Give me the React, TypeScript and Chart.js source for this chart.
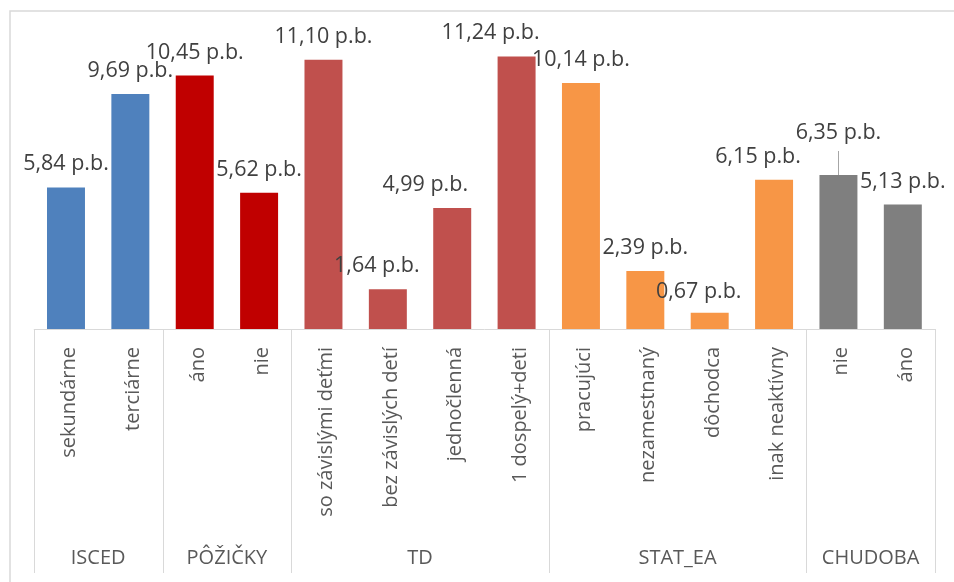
import React, { useEffect, useRef } from "react";
import { Chart, registerables } from "chart.js";

Chart.register(...registerables);

const categories = [
  "sekundárne",
  "terciárne",
  "áno",
  "nie",
  "so závislými deťmi",
  "bez závislých detí",
  "jednočlenná",
  "1 dospelý+deti",
  "pracujúci",
  "nezamestnaný",
  "dôchodca",
  "inak neaktívny",
  "nie",
  "áno",
];
const values = [5.84, 9.69, 10.45, 5.62, 11.1, 1.64, 4.99, 11.24, 10.14, 2.39, 0.67, 6.15, 6.35, 5.13];
const groupNames = ["ISCED", "PÔŽIČKY", "TD", "STAT_EA", "CHUDOBA"];
const groupSizes = [2, 2, 4, 4, 2];
const groupColors = ["#4F81BD", "#C00000", "#C0504D", "#F79646", "#7F7F7F"];
const labelSuffix = " p.b.";

// manual nudges of data labels (as in the original Excel chart)
const labelNudge: Record<number, { dx: number; dy: number; leader?: boolean }> = {
  5: { dx: -11, dy: 0 },
  6: { dx: -27, dy: 0 },
  7: { dx: -26, dy: 0 },
  10: { dx: -11, dy: 2 },
  11: { dx: -16, dy: 0 },
  12: { dx: 0, dy: -19, leader: true },
};

const barColors: string[] = [];
groupSizes.forEach((n, g) => {
  for (let i = 0; i < n; i++) barColors.push(groupColors[g]);
});

const FONT = "'Open Sans', 'Noto Sans', sans-serif";

const decorPlugin = {
  id: "decor",
  afterDraw(chart: any) {
    const { ctx, chartArea } = chart;
    const meta = chart.getDatasetMeta(0);
    const xs = chart.scales.x;
    const left = chartArea.left;
    const right = chartArea.right;
    const bottom = chartArea.bottom;
    const step = (right - left) / categories.length;
    ctx.save();

    // outer frame
    ctx.strokeStyle = "#D9D9D9";
    ctx.lineWidth = 1.5;
    ctx.beginPath();
    ctx.moveTo(10, 582);
    ctx.lineTo(10, 11);
    ctx.lineTo(954, 11);
    ctx.stroke();

    // axis line
    ctx.lineWidth = 1;
    ctx.strokeStyle = "#D9D9D9";
    ctx.beginPath();
    ctx.moveTo(left, bottom + 0.5);
    ctx.lineTo(right, bottom + 0.5);
    ctx.stroke();

    // group separators
    let idx = 0;
    const bounds = [0];
    groupSizes.forEach((n) => {
      idx += n;
      bounds.push(idx);
    });
    bounds.forEach((b) => {
      const x = Math.round(left + b * step) + 0.5;
      ctx.beginPath();
      ctx.moveTo(x, bottom);
      ctx.lineTo(x, 573);
      ctx.stroke();
    });

    // category labels
    ctx.fillStyle = "#595959";
    ctx.font = `20px ${FONT}`;
    categories.forEach((c, i) => {
      const cx = xs.getPixelForValue(i);
      ctx.save();
      ctx.translate(cx + 9, 347);
      ctx.rotate(-Math.PI / 2);
      ctx.textAlign = "right";
      ctx.textBaseline = "alphabetic";
      ctx.fillText(c, 0, 0);
      ctx.restore();
    });

    // group labels
    ctx.textAlign = "center";
    ctx.textBaseline = "alphabetic";
    groupNames.forEach((g, k) => {
      const cx = left + ((bounds[k] + bounds[k + 1]) / 2) * step;
      ctx.fillText(g, cx, 564);
    });

    // data labels
    ctx.fillStyle = "#404040";
    ctx.font = `21.5px ${FONT}`;
    meta.data.forEach((bar: any, i: number) => {
      const n = labelNudge[i] || { dx: 0, dy: 0 };
      const txt = values[i].toFixed(2).replace(".", ",") + labelSuffix;
      const x = bar.x + n.dx;
      const y = bar.y - 17 + n.dy;
      ctx.fillText(txt, x, y);
      if (n.leader) {
        ctx.strokeStyle = "#A6A6A6";
        ctx.lineWidth = 1;
        ctx.beginPath();
        ctx.moveTo(Math.round(bar.x) + 0.5, y + 12);
        ctx.lineTo(Math.round(bar.x) + 0.5, bar.y);
        ctx.stroke();
      }
    });

    ctx.restore();
  },
};

export default function App() {
  const ref = useRef<HTMLCanvasElement | null>(null);
  useEffect(() => {
    if (!ref.current) return;
    const chart = new Chart(ref.current, {
      type: "bar",
      data: {
        labels: categories,
        datasets: [
          {
            data: values,
            backgroundColor: barColors,
            borderWidth: 0,
            barPercentage: 0.59,
            categoryPercentage: 1,
          },
        ],
      },
      options: {
        responsive: false,
        animation: false,
        events: [],
        layout: { padding: { top: 13.75, bottom: 253, left: 33.8, right: 19 } },
        plugins: {
          legend: { display: false },
          tooltip: { enabled: false },
          title: { display: false },
        },
        scales: {
          x: { display: false, grid: { display: false } },
          y: { display: false, min: 0, max: 13, grid: { display: false } },
        },
      },
      plugins: [decorPlugin],
    });
    return () => chart.destroy();
  }, []);
  return (
    <div style={{ position: "fixed", left: 0, top: 0, width: 954, height: 582, background: "#fff" }}>
      <canvas ref={ref} width={954} height={582} style={{ display: "block" }} />
    </div>
  );
}
